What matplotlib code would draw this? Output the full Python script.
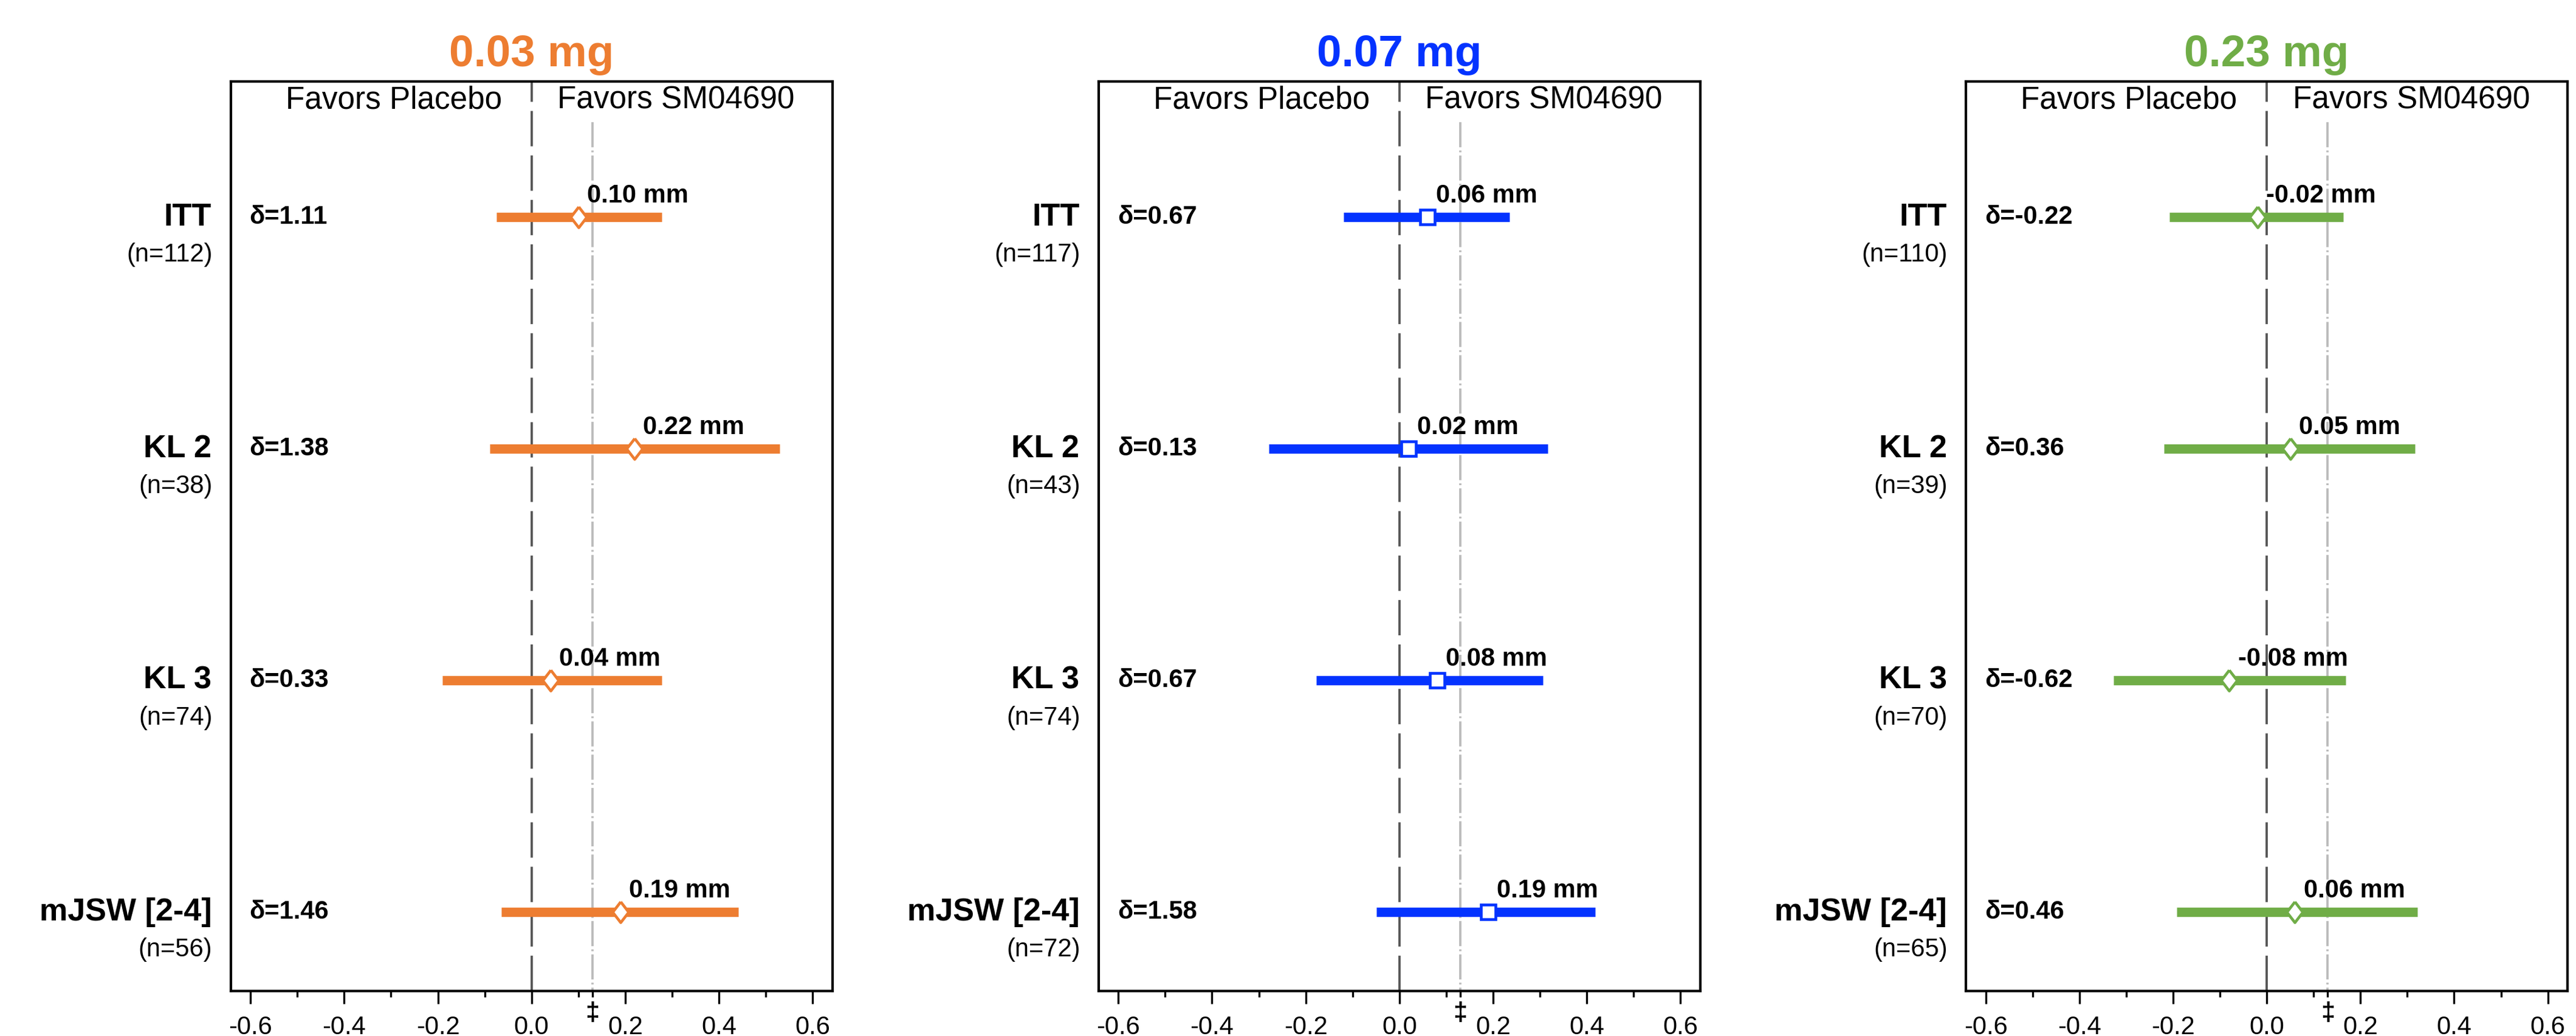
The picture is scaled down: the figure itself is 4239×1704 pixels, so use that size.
import numpy as np
import matplotlib.pyplot as plt
from matplotlib.transforms import blended_transform_factory

plt.rcParams['font.family'] = ['Liberation Sans', 'DejaVu Sans']
plt.rcParams['axes.unicode_minus'] = False

# --- data ------------------------------------------------------------------
rows = ['ITT', 'KL 2', 'KL 3', 'mJSW [2-4]']
doses = ['0.03 mg', '0.07 mg', '0.23 mg']
colors = ['#ED7D31', '#0433FF', '#70AD47']

n_03 = [112, 38, 74, 56]
n_07 = [117, 43, 74, 72]
n_23 = [110, 39, 70, 65]

est_03 = [0.10, 0.22, 0.04, 0.19]
lo_03 = [-0.075, -0.089, -0.190, -0.065]
hi_03 = [0.278, 0.530, 0.278, 0.442]
delta_03 = [1.11, 1.38, 0.33, 1.46]

est_07 = [0.06, 0.02, 0.08, 0.19]
lo_07 = [-0.119, -0.279, -0.178, -0.049]
hi_07 = [0.235, 0.317, 0.307, 0.418]
delta_07 = [0.67, 0.13, 0.67, 1.58]

est_23 = [-0.02, 0.05, -0.08, 0.06]
lo_23 = [-0.208, -0.219, -0.327, -0.192]
hi_23 = [0.163, 0.317, 0.168, 0.321]
delta_23 = [-0.22, 0.36, -0.62, 0.46]

mcid = 0.13  # reference line marked with a double dagger
xticks = [-0.6, -0.4, -0.2, 0.0, 0.2, 0.4, 0.6]
xtick_labels = ['-0.6', '-0.4', '-0.2', '0.0', '0.2', '0.4', '0.6']
minor_ticks = [-0.5, -0.3, -0.1, 0.1, mcid, 0.3, 0.5]

panels = [
    (n_03, est_03, lo_03, hi_03, delta_03),
    (n_07, est_07, lo_07, hi_07, delta_07),
    (n_23, est_23, lo_23, hi_23, delta_23),
]

diamond = [(0, 1), (0.77, 0), (0, -1), (-0.77, 0), (0, 1)]
marker_style = [(diamond, 8.2), ('s', 5.6), (diamond, 8.2)]

fig = plt.figure(figsize=(4239 / 300, 1704 / 300), dpi=300)
lefts = [0.0896, 0.4265, 0.7632]

for i, (n, est, lo, hi, delta) in enumerate(panels):
    ax = fig.add_axes([lefts[i], 0.0434, 0.2335, 0.8779])
    col = colors[i]
    y = np.arange(len(rows))

    ax.axvline(0, color='#555555', lw=0.9, dashes=(15.5, 4), zorder=1)
    ax.plot([mcid, mcid], [-0.41, 3.341], color='#BBBBBB', lw=0.9,
            dashes=(11, 1.4, 0.8, 1.4), zorder=1)

    ax.hlines(y, lo, hi, color=col, lw=3.7, zorder=2)
    mk, ms = marker_style[i]
    ax.plot(est, y, linestyle='none', marker=mk, ms=ms, mfc='white',
            mec=col, mew=1.1, zorder=3)

    for k in range(len(rows)):
        ax.annotate(f'{est[k]:.2f} mm', (est[k], y[k]), xytext=(3.4, 5.8),
                    textcoords='offset points', ha='left', va='baseline',
                    fontsize=10, fontweight='bold')
    trans = blended_transform_factory(ax.transAxes, ax.transData)
    for k in range(len(rows)):
        ax.annotate(f'δ={delta[k]:.2f}', (0, y[k]), xycoords=trans,
                    xytext=(7.4, 0), textcoords='offset points',
                    ha='left', va='center', fontsize=10, fontweight='bold')
        ax.annotate(rows[k], (0, y[k]), xycoords=trans, xytext=(-7.6, 0),
                    textcoords='offset points', ha='right', va='center',
                    fontsize=12.5, fontweight='bold', annotation_clip=False)
        ax.annotate(f'(n={n[k]})', (0, y[k]), xycoords=trans,
                    xytext=(-7.3, -14.8), textcoords='offset points',
                    ha='right', va='center', fontsize=10,
                    annotation_clip=False)

    ax.text(-0.063, -0.505, 'Favors Placebo', ha='right', va='center', fontsize=12.3)
    ax.text(0.055, -0.505, 'Favors SM04690', ha='left', va='center', fontsize=12.3)

    ax.set_xlim(-0.642, 0.642)
    ax.set_ylim(3.341, -0.585)
    ax.set_yticks([])
    ax.set_xticks(xticks)
    ax.set_xticklabels(xtick_labels, fontsize=10)
    ax.set_xticks(minor_ticks, minor=True)
    ax.tick_params(axis='x', which='major', length=5, width=0.8, pad=4.5)
    ax.tick_params(axis='x', which='minor', length=2.5, width=0.8)
    for sp in ax.spines.values():
        sp.set_linewidth(1.0)

    xtrans = blended_transform_factory(ax.transData, ax.transAxes)
    ax.annotate('‡', (mcid, 0), xycoords=xtrans, xytext=(0, -8.9),
                textcoords='offset points', ha='center', va='center',
                fontsize=10, fontweight='bold', annotation_clip=False)

    ax.set_title(doses[i], color=col, fontsize=17.5, fontweight='bold', pad=6)

fig.savefig('out.png', dpi=300)
plt.close(fig)
